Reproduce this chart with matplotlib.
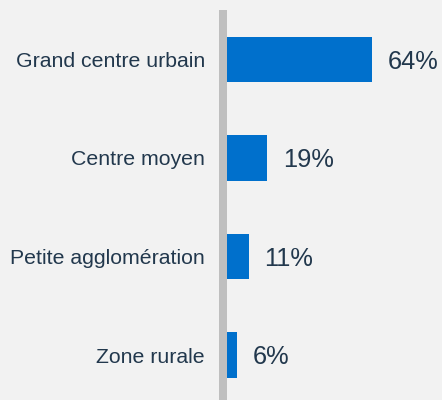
"""Horizontal bar chart: share by settlement type."""
import matplotlib.pyplot as plt

categories = ['Grand centre urbain', 'Centre moyen', 'Petite agglomération', 'Zone rurale']
values = [64, 19, 11, 6]
value_labels = ['64%', '19%', '11%', '6%']

plt.rcParams['font.family'] = ['Liberation Sans', 'DejaVu Sans']
bg = '#f2f2f2'
text_color = '#22384d'

fig = plt.figure(figsize=(4.42, 4.0), dpi=100, facecolor=bg)
# Axes placed in pixel terms: data 0 at x=223px, top at y=10px, bottom at 400px.
ax = fig.add_axes([223 / 442, 0.0, 219 / 442, 390 / 400])
ax.set_facecolor(bg)

bars = ax.barh(range(len(values)), values, height=0.46, color='#0070cc', zorder=2)
for b, lab in zip(bars, value_labels):
    ax.annotate(lab, (b.get_width(), b.get_y() + b.get_height() / 2),
                xytext=(11.5, -1.5), textcoords='offset points',
                va='center', ha='left', fontsize=18.3, color=text_color)

ax.set_xlim(0, 219 / 2.33)
ax.set_ylim(3.456, -0.502)
ax.set_yticks(range(len(categories)), categories)
ax.tick_params(axis='y', length=0, pad=13, labelsize=15.3, labelcolor=text_color)
ax.set_xticks([])
for s in ax.spines.values():
    s.set_visible(False)

# Thick grey baseline, drawn over the start of the bars.
ax.axvline(0, color='#bfbfbf', linewidth=5.76, solid_capstyle='butt',
           clip_on=False, zorder=3)

fig.savefig('out.png', dpi=100, facecolor=bg)
